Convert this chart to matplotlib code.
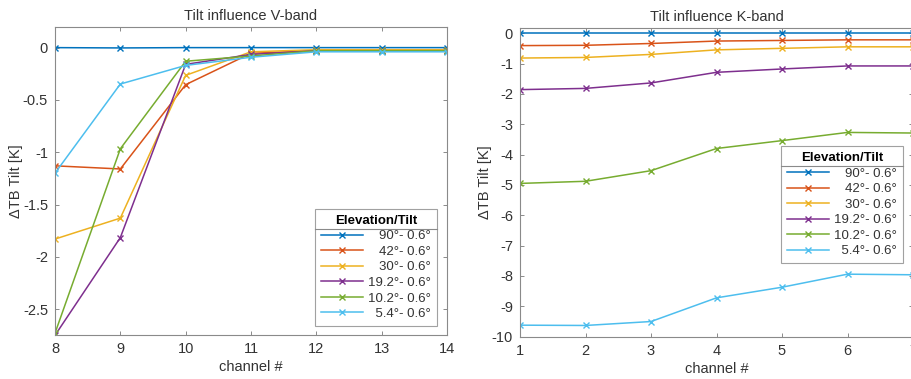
import matplotlib
matplotlib.use("Agg")
import matplotlib.pyplot as plt
from matplotlib.lines import Line2D
from matplotlib.ticker import FuncFormatter

plt.rcParams['font.family'] = ['Liberation Sans', 'DejaVu Sans']
plt.rcParams['axes.unicode_minus'] = False

# ---------------- data ----------------
v_channels = [8, 9, 10, 11, 12, 13, 14]
k_channels = [1, 2, 3, 4, 5, 6, 7]

labels = ["90°- 0.6°", "42°- 0.6°", "30°- 0.6°", "19.2°- 0.6°", "10.2°- 0.6°", "5.4°- 0.6°"]
pad = ["\u2007\u2008", "\u2007\u2008", "\u2007\u2008", "", "", "\u2007"]

v_90 = [0.0, -0.003, 0.0, 0.0, 0.0, 0.0, 0.0]
v_42 = [-1.13, -1.16, -0.354, -0.054, -0.03, -0.03, -0.03]
v_30 = [-1.83, -1.63, -0.265, -0.04, -0.02, -0.02, -0.02]
v_19 = [-2.75, -1.816, -0.16, -0.065, -0.03, -0.03, -0.03]
v_10 = [-2.73, -0.967, -0.13, -0.08, -0.03, -0.03, -0.03]
v_5 = [-1.20, -0.348, -0.17, -0.092, -0.04, -0.04, -0.04]

k_90 = [0.0, 0.0, 0.0, 0.0, 0.0, 0.0, 0.0]
k_42 = [-0.41, -0.40, -0.34, -0.26, -0.24, -0.22, -0.22]
k_30 = [-0.82, -0.80, -0.70, -0.55, -0.50, -0.45, -0.45]
k_19 = [-1.86, -1.82, -1.64, -1.29, -1.18, -1.08, -1.08]
k_10 = [-4.95, -4.88, -4.53, -3.80, -3.54, -3.27, -3.29]
k_5 = [-9.62, -9.63, -9.50, -8.72, -8.37, -7.94, -7.96]

v_series = [v_90, v_42, v_30, v_19, v_10, v_5]
k_series = [k_90, k_42, k_30, k_19, k_10, k_5]

colors = ["#0072BD", "#D95319", "#EDB120", "#7E2F8E", "#77AC30", "#4DBEEE"]

W, H = 911, 379
fig = plt.figure(figsize=(W / 100, H / 100), dpi=100)

spine_c = "#8a8a8a"
text_c = "#333333"

def style(ax):
    for s in ax.spines.values():
        s.set_color(spine_c)
        s.set_linewidth(0.8)
    ax.tick_params(direction='in', length=3, width=0.7, color=spine_c,
                   labelcolor=text_c, labelsize=10.5, top=True, right=True, pad=5)
    ax.yaxis.set_major_formatter(FuncFormatter(lambda v, p: "%g" % v))

def add_legend(ax, anchor):
    leg = ax.legend([p + l for p, l in zip(pad, labels)], loc='lower right',
                    bbox_to_anchor=anchor, bbox_transform=fig.transFigure,
                    title="Elevation/Tilt", fontsize=9.5, frameon=True, fancybox=False,
                    borderpad=0.45, labelspacing=0.25, handlelength=3.2,
                    handletextpad=0.4, borderaxespad=0)
    leg.get_frame().set_edgecolor(spine_c)
    leg.get_frame().set_linewidth(0.8)
    leg.get_title().set_fontweight('bold')
    leg.get_title().set_fontsize(9.5)
    for t in leg.get_texts():
        t.set_color(text_c)
    return leg

# ---------------- V-band ----------------
ax1 = fig.add_axes([55 / W, 1 - 335.3 / H, 392 / W, 308.6 / H])
for y, c in zip(v_series, colors):
    ax1.plot(v_channels, y, color=c, marker='x', markersize=5, linewidth=1.1)
ax1.set_xlim(8, 14)
ax1.set_ylim(-2.75, 0.2)
ax1.set_yticks([0, -0.5, -1, -1.5, -2, -2.5])
ax1.set_xticks(v_channels)
style(ax1)
ax1.set_title("Tilt influence V-band", fontsize=10.5, color=text_c, pad=5)
ax1.set_xlabel("channel #", fontsize=10.5, color=text_c, labelpad=3)
ax1.set_ylabel("ΔTB Tilt [K]", fontsize=10.5, color=text_c, labelpad=0)
leg1 = add_legend(ax1, (437 / W, 1 - 326 / H))

# ---------------- K-band ----------------
ax2 = fig.add_axes([520 / W, 1 - 336.7 / H, 393 / W, 308.7 / H])
for y, c in zip(k_series, colors):
    ax2.plot(k_channels, y, color=c, marker='x', markersize=5, linewidth=1.1)
ax2.set_xlim(1, 7)
ax2.set_ylim(-10, 0.17)
ax2.set_yticks(list(range(0, -11, -1)))
ax2.set_xticks(k_channels)
style(ax2)
ax2.set_title("Tilt influence K-band", fontsize=10.5, color=text_c, pad=5)
ax2.set_xlabel("channel #", fontsize=10.5, color=text_c, labelpad=3)
ax2.set_ylabel("ΔTB Tilt [K]", fontsize=10.5, color=text_c, labelpad=0)
leg2 = add_legend(ax2, (903 / W, 1 - 263.3 / H))

# separator line under the legend titles
fig.canvas.draw()
for leg in (leg1, leg2):
    lb = leg.get_window_extent()
    tb = leg.get_title().get_window_extent()
    ysep = tb.y0 - 2
    fig.add_artist(Line2D([lb.x0 / W, lb.x1 / W], [ysep / H, ysep / H],
                          transform=fig.transFigure, color=spine_c, linewidth=0.8))

fig.savefig("out.png", dpi=100)
